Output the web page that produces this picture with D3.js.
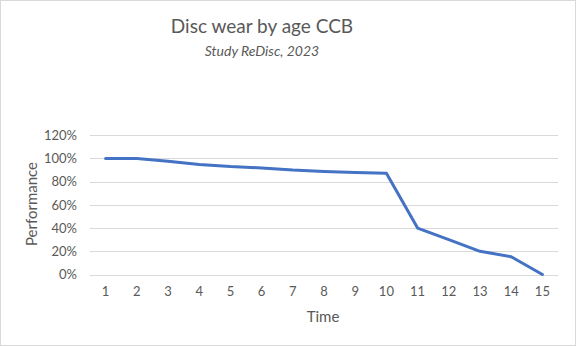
<!DOCTYPE html>
<html><head><meta charset="utf-8">
<script src="https://cdn.jsdelivr.net/npm/d3@7"></script>
<style>body{margin:0;background:#fff}svg{display:block}text{font-family:Lato,"Open Sans",sans-serif}</style>
</head><body>
<svg id="c" width="576" height="346"></svg>
<script>
const categories = [1,2,3,4,5,6,7,8,9,10,11,12,13,14,15];
const performance = [1.00,1.00,0.975,0.948,0.93,0.918,0.90,0.888,0.878,0.872,0.40,0.30,0.20,0.153,0.0];
const yTicks = [0,0.2,0.4,0.6,0.8,1.0,1.2];
const title = "Disc wear by age CCB";
const subtitle = "Study ReDisc, 2023";
const xTitle = "Time";
const yTitle = "Performance";

const svg = d3.select("#c");
svg.append("rect").attr("x",0.5).attr("y",0.5).attr("width",575).attr("height",345)
  .attr("fill","#fff").attr("stroke","#d9d9d9");

const x = d3.scaleBand().domain(categories).range([90,558]);
const y = d3.scaleLinear().domain([0,1.2]).range([274.5,135.2]);

const grid = svg.append("g");
grid.selectAll("line").data(yTicks).join("line")
  .attr("x1",90).attr("x2",558).attr("y1",d=>Math.round(y(d))+0.5).attr("y2",d=>Math.round(y(d))+0.5)
  .attr("stroke","#d9d9d9").attr("stroke-width",1);

const yAxis = svg.append("g").attr("transform","translate(90,0)")
  .call(d3.axisLeft(y).tickValues(yTicks).tickFormat(d3.format(".0%")).tickSize(0).tickPadding(13));
yAxis.select(".domain").remove();
yAxis.selectAll("text").attr("fill","#595959").style("font-size","13px");

const xAxis = svg.append("g").attr("transform","translate(0,274.5)")
  .call(d3.axisBottom(x).tickSize(0).tickPadding(12));
xAxis.select(".domain").remove();
xAxis.selectAll("text").attr("fill","#595959").style("font-size","13px");

const line = d3.line().x((d,i)=>x(categories[i])+x.bandwidth()/2).y(d=>y(d));
svg.append("path").datum(performance).attr("d",line).attr("fill","none")
  .attr("stroke","#4472C4").attr("stroke-width",3).attr("stroke-linejoin","round").attr("stroke-linecap","round");

svg.append("text").attr("x",262).attr("y",33).attr("text-anchor","middle")
  .attr("fill","#595959").style("font-size","19px").text(title);
svg.append("text").attr("x",262).attr("y",55.5).attr("text-anchor","middle")
  .attr("fill","#595959").style("font-size","14px").style("font-style","italic").text(subtitle);
svg.append("text").attr("x",323).attr("y",322).attr("text-anchor","middle")
  .attr("fill","#595959").style("font-size","15px").text(xTitle);
svg.append("text").attr("transform","translate(37,204) rotate(-90)").attr("text-anchor","middle")
  .attr("fill","#595959").style("font-size","15px").text(yTitle);
</script>
</body></html>
